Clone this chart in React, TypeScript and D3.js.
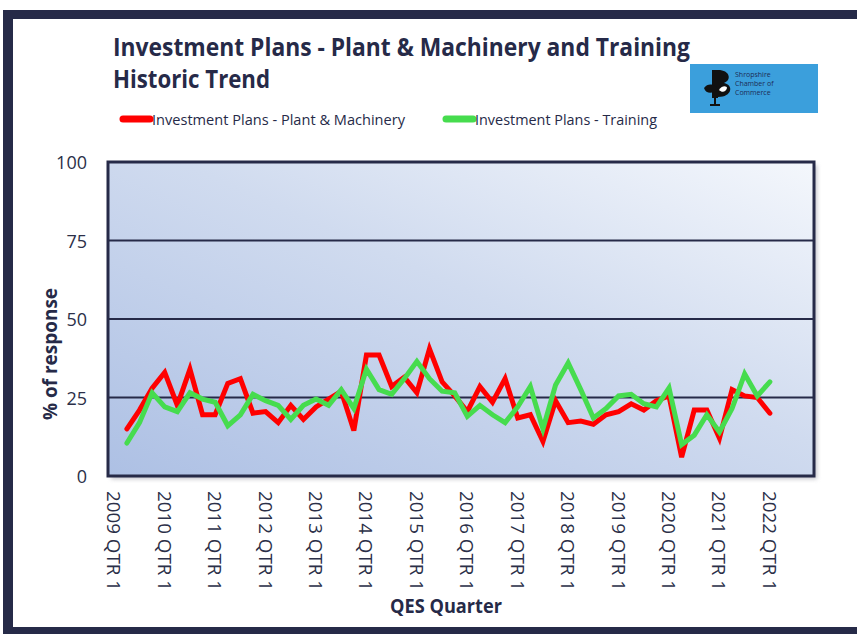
import React from "react";
import * as d3 from "d3";

// ---- data ----
const years = d3.range(2009, 2023);
const quarterCategories: string[] = years.flatMap((y) => [1, 2, 3, 4].map((q) => `${y} QTR ${q}`));
const tickLabels = years.map((y) => `${y} QTR 1`);
// values from 2009 QTR 2 to 2022 QTR 1
const dataCategories = quarterCategories.slice(1, 53);
const plantMachinery = [
  15, 21, 28, 33, 22.5, 34, 19.5, 19.5, 29.5, 31, 20, 20.5, 17,
  22.5, 18, 22, 24.5, 27, 14.5, 38.5, 38.5, 28.5, 31.5, 26.5, 40.5, 30,
  25.5, 20.5, 28.5, 23.5, 31, 18.5, 19.5, 11, 24, 17, 17.5, 16.5, 19.5,
  20.5, 23, 21, 24, 25.5, 6, 21, 21, 12, 27.5, 25.5, 25, 20,
];
const training = [
  10.5, 17, 26.5, 22, 20.5, 26.5, 24.5, 23.5, 16, 19.5, 26, 24, 22.5,
  18, 22.5, 24.5, 22.5, 27.5, 21.5, 34, 27.5, 26, 31, 36.5, 31, 27,
  26.5, 19, 22.5, 19.5, 17, 22, 28.5, 15, 29, 36, 27.5, 18.5, 21.5,
  25.5, 26, 23, 22, 28, 10, 13, 19.5, 14, 21.5, 32.5, 25.5, 30,
];
const yTicks = [0, 25, 50, 75, 100];
const seriesNames = ["Investment Plans - Plant & Machinery", "Investment Plans - Training"];
const logoLines = ["Shropshire", "Chamber of", "Commerce"];

const W = 857;
const H = 634;
const navy = "#262a48";
const narrow = "'Liberation Sans Narrow', 'Open Sans', sans-serif";
const tickFont = "'Open Sans', sans-serif";

export default function App() {
  const left = 108, right = 814, top = 162, bottom = 476;
  const x = d3.scaleBand<string>().domain(quarterCategories).range([left, right]).paddingInner(0).paddingOuter(0);
  const cx = (c: string) => (x(c) as number) + x.bandwidth() / 2;
  const y = d3.scaleLinear().domain([0, 100]).range([bottom, top]);
  const line = d3
    .line<number>()
    .x((_, i) => cx(dataCategories[i]))
    .y((d) => y(d));

  return (
    <svg width={W} height={H} style={{ position: "absolute", left: 0, top: 0, background: "#fff" }}>
      <defs>
        <linearGradient id="plotGrad" x1="0" y1="1" x2="1" y2="0">
          <stop offset="0%" stopColor="#adc0e4" />
          <stop offset="55%" stopColor="#d0dbef" />
          <stop offset="100%" stopColor="#f4f7fc" />
        </linearGradient>
        <filter id="shadow" x="-5%" y="-5%" width="115%" height="115%">
          <feGaussianBlur stdDeviation="2" />
        </filter>
      </defs>

      {/* outer frame */}
      <rect x={0} y={0} width={W} height={H} fill="#fff" />
      <rect x={3} y={10} width={W - 3} height={9} fill={navy} />
      <rect x={3} y={10} width={10} height={H - 10} fill={navy} />
      <rect x={3} y={627} width={W - 3} height={7} fill={navy} />

      {/* title */}
      <text x={113} y={56} fontFamily={narrow} fontWeight="bold" fontSize={25} fill={navy}
        textLength={577} lengthAdjust="spacingAndGlyphs">
        Investment Plans - Plant &amp; Machinery and Training
      </text>
      <text x={113} y={88} fontFamily={narrow} fontWeight="bold" fontSize={25} fill={navy}
        textLength={157} lengthAdjust="spacingAndGlyphs">
        Historic Trend
      </text>

      {/* logo */}
      <g>
        <rect x={690} y={64} width={128} height={49} fill="#3b9fdc" />
        <path d="M712,70 L718,70 L718,98 L712,98 Z" fill="#111" />
        <path d="M718,70 C730,70 732,80 724,83 C734,85 732,97 718,97 Z" fill="#111" />
        <path d="M704,88 C708,82 716,84 718,90 C712,94 706,94 704,88 Z" fill="#111" />
        <path d="M719,90 C722,85 727,86 727,88 C726,92 722,93 719,90 Z" fill="#fff" />
        <rect x={714} y={98} width={2} height={8} fill="#111" />
        <rect x={710} y={104} width={10} height={2} fill="#111" />
        {logoLines.map((t, i) => (
          <text key={t} x={735} y={77 + i * 9} fontFamily={narrow} fontSize={7} fill="#1c2c55">{t}</text>
        ))}
      </g>

      {/* legend */}
      <line x1={123} x2={150} y1={119} y2={119} stroke="#ff0000" strokeWidth={7} strokeLinecap="round" />
      <text x={152} y={119} dominantBaseline="central" fontFamily={narrow} fontSize={15} fill={navy}
        textLength={253} lengthAdjust="spacingAndGlyphs">{seriesNames[0]}</text>
      <line x1={446} x2={473} y1={119} y2={119} stroke="#46dc4e" strokeWidth={7} strokeLinecap="round" />
      <text x={475} y={119} dominantBaseline="central" fontFamily={narrow} fontSize={15} fill={navy}
        textLength={182} lengthAdjust="spacingAndGlyphs">{seriesNames[1]}</text>

      {/* plot area */}
      <rect x={left + 3} y={top + 3} width={right - left} height={bottom - top} fill="#9a9aa6" opacity={0.6} filter="url(#shadow)" />
      <rect x={left} y={top} width={right - left} height={bottom - top} fill="url(#plotGrad)" />
      {yTicks.filter((t) => t > 0 && t < 100).map((t) => (
        <line key={t} x1={left} x2={right} y1={y(t)} y2={y(t)} stroke={navy} strokeWidth={2.2} />
      ))}

      {/* series */}
      <path d={line(plantMachinery) || ""} fill="none" stroke="#ff0000" strokeWidth={5} strokeLinejoin="miter" strokeLinecap="round" />
      <path d={line(training) || ""} fill="none" stroke="#46dc4e" strokeWidth={5} strokeLinejoin="miter" strokeLinecap="round" />

      <rect x={left} y={top} width={right - left} height={bottom - top} fill="none" stroke={navy} strokeWidth={3} />

      {/* y axis */}
      {yTicks.map((t) => (
        <text key={t} x={87} y={y(t)} textAnchor="end" dominantBaseline="central" fontFamily={tickFont} fontSize={18} fill="#2b2f48">
          {t}
        </text>
      ))}
      <text transform={`translate(50,${(top + bottom) / 2 + 35}) rotate(-90)`} textAnchor="middle" dominantBaseline="central"
        fontFamily={tickFont} fontWeight="bold" fontSize={19} fill={navy} textLength={132} lengthAdjust="spacingAndGlyphs">
        % of response
      </text>

      {/* x axis */}
      {tickLabels.map((lab) => (
        <text key={lab} transform={`translate(${cx(lab)},491) rotate(90)`} dominantBaseline="central"
          fontFamily={tickFont} fontSize={18} fill="#2b2f48" textLength={100} lengthAdjust="spacingAndGlyphs">
          {lab}
        </text>
      ))}
      <text x={446} y={606} textAnchor="middle" dominantBaseline="central" fontFamily={tickFont} fontWeight="bold" fontSize={19}
        fill={navy} textLength={112} lengthAdjust="spacingAndGlyphs">
        QES Quarter
      </text>
    </svg>
  );
}
